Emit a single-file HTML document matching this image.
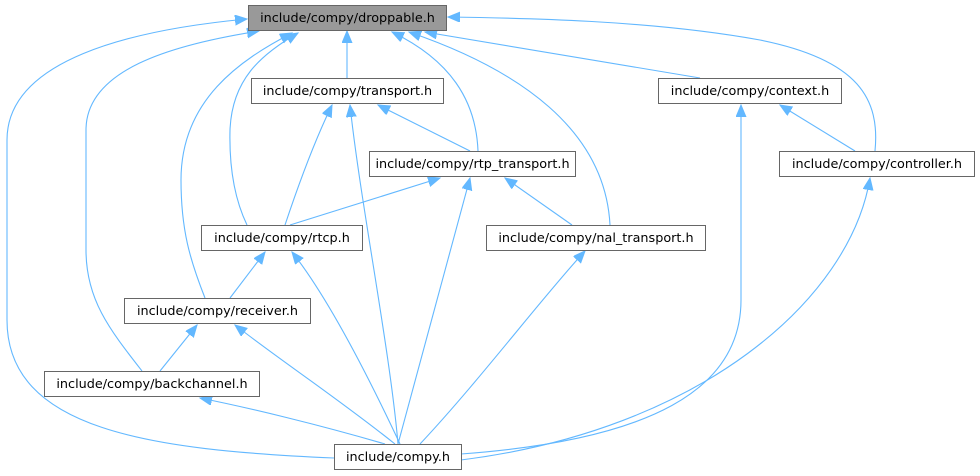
<!DOCTYPE html>
<html><head><meta charset="utf-8"><style>
html,body{margin:0;padding:0;background:#fff;}
svg{display:block;}
text{font-family:"DejaVu Sans","Liberation Sans",sans-serif;font-size:12.8px;fill:#000;}
</style></head><body>
<svg width="980" height="476" viewBox="0 0 980 476" xmlns="http://www.w3.org/2000/svg">
<defs>
<marker id="a" markerUnits="userSpaceOnUse" markerWidth="14" markerHeight="12" refX="12" refY="5" orient="auto">
<path d="M0,0 L12,5 L0,10 Z" fill="#63b8ff" stroke="#63b8ff"/>
</marker>
</defs>
<g fill="none" stroke="#63b8ff" stroke-width="1.1" marker-end="url(#a)">
<path d="M334,458 C150,450 7,430 7,320 L7,140 C7,60 130,30 247,19"/>
<path d="M142,371 C110,330 86,300 86,250 L86,130 C86,70 170,45 259,31"/>
<path d="M205,298 C190,260 181,230 181,180 C181,100 240,60 292,33"/>
<path d="M247,225 C235,200 229,170 230,130 C232,80 260,55 298,33"/>
<path d="M347,78 L347,31"/>
<path d="M478,151 C476,100 450,60 392,32"/>
<path d="M610,225 C605,130 520,70 409,32"/>
<path d="M700,78 L425,32"/>
<path d="M875,151 C880,100 860,60 760,40 C650,20 520,18 448,17"/>
<path d="M285,225 C300,180 315,140 332,105"/>
<path d="M398,444 C390,350 360,200 350,105"/>
<path d="M470,151 L378,105"/>
<path d="M290,225 L440,178"/>
<path d="M398,444 L470,178"/>
<path d="M572,225 L505,178"/>
<path d="M461,454 C650,440 741,390 741,300 L741,105"/>
<path d="M461,460 C700,430 850,300 870,178"/>
<path d="M855,151 L780,105"/>
<path d="M420,444 C480,380 540,300 585,251"/>
<path d="M230,298 L265,252"/>
<path d="M400,444 C370,380 330,300 292,252"/>
<path d="M160,371 L197,325"/>
<path d="M395,444 C340,400 280,360 235,325"/>
<path d="M385,444 C320,425 250,408 200,398"/>
</g>
<g stroke="#666" stroke-width="1">
<rect x="248.5" y="5.5" width="198" height="25" fill="#999"/>
<rect x="251.5" y="78.5" width="192" height="25" fill="#fff"/>
<rect x="658.5" y="78.5" width="183" height="25" fill="#fff"/>
<rect x="369.5" y="151.5" width="206" height="25" fill="#fff"/>
<rect x="779.5" y="151.5" width="195" height="25" fill="#fff"/>
<rect x="201.5" y="225.5" width="161" height="25" fill="#fff"/>
<rect x="486.5" y="225.5" width="219" height="25" fill="#fff"/>
<rect x="124.5" y="298.5" width="186" height="25" fill="#fff"/>
<rect x="44.5" y="371.5" width="215" height="25" fill="#fff"/>
<rect x="334.5" y="444.5" width="127" height="25" fill="#fff"/>
</g>
<g text-anchor="middle">
<text x="347.5" y="22">include/compy/droppable.h</text>
<text x="347.5" y="95">include/compy/transport.h</text>
<text x="750" y="95">include/compy/context.h</text>
<text x="472.5" y="168">include/compy/rtp_transport.h</text>
<text x="877" y="168">include/compy/controller.h</text>
<text x="282" y="242">include/compy/rtcp.h</text>
<text x="596" y="242">include/compy/nal_transport.h</text>
<text x="217.5" y="315">include/compy/receiver.h</text>
<text x="152" y="388">include/compy/backchannel.h</text>
<text x="398" y="461">include/compy.h</text>
</g>
</svg>
</body></html>
